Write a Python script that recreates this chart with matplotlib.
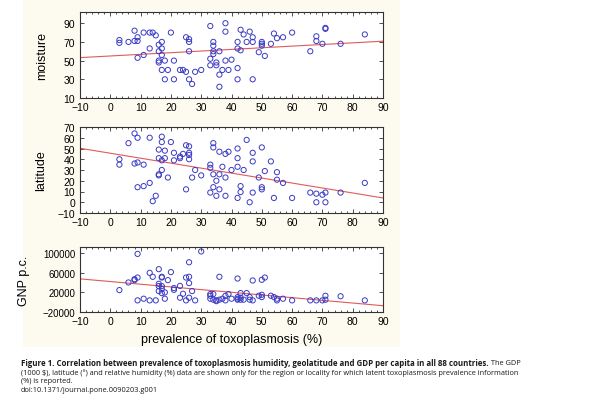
import numpy as np
import matplotlib
matplotlib.use("Agg")
import matplotlib.pyplot as plt
from matplotlib.patches import Rectangle
from matplotlib.ticker import MultipleLocator

# ---------------- data ----------------
moist_x = [3, 3, 6, 8, 8, 9, 9, 9, 11, 11, 13, 13, 14, 15, 16, 16, 16, 16, 17, 17,
           17, 17, 18, 18, 19, 20, 21, 21, 23, 24, 25, 25, 26, 26, 26, 26, 27, 28, 30, 33,
           33, 33, 34, 34, 34, 34, 35, 35, 36, 36, 36, 37, 38, 38, 38, 39, 40, 42, 42, 42,
           42, 43, 43, 44, 45, 46, 47, 47, 47, 49, 50, 50, 50, 51, 53, 54, 55, 57, 60, 66,
           68, 68, 70, 71, 71, 76, 84]
moist_y = [72, 69, 70, 82, 71, 75, 71, 53, 80, 56, 63, 80, 80, 77, 67, 60, 50, 48, 70, 63,
           56, 40, 50, 30, 40, 80, 50, 30, 40, 40, 75, 38, 73, 70, 60, 30, 25, 38, 40, 87,
           52, 45, 70, 66, 60, 57, 48, 45, 60, 35, 22, 40, 90, 81, 50, 40, 51, 70, 63, 42,
           30, 83, 61, 78, 70, 81, 75, 70, 30, 59, 70, 68, 66, 55, 68, 79, 74, 75, 80, 60,
           76, 71, 68, 85, 84, 68, 78]

lat_x = [3, 3, 6, 8, 8, 9, 9, 9, 11, 11, 13, 13, 14, 15, 16, 16, 16, 16, 17, 17,
         17, 17, 18, 18, 19, 20, 21, 21, 23, 23, 24, 25, 25, 26, 26, 26, 26, 27, 28, 30,
         33, 33, 33, 34, 34, 34, 34, 35, 35, 36, 36, 36, 37, 38, 38, 38, 39, 40, 42, 42,
         42, 42, 43, 43, 44, 45, 46, 47, 47, 47, 49, 50, 50, 50, 51, 53, 54, 55, 55, 57,
         60, 66, 68, 68, 70, 71, 71, 76, 84]
lat_y = [40, 35, 55, 64, 36, 60, 37, 14, 35, 15, 60, 18, 1, 6, 49, 41, 26, 25, 61, 56,
         39, 30, 48, 41, 23, 56, 46, 39, 41, 42.5, 45, 53, 12, 52, 46, 44, 40, 23, 30, 25,
         35, 32, 9, 55, 51, 26, 14, 20, 6, 47, 26, 12, 33, 45, 23, 6, 47, 30, 50, 41,
         33, 4, 15, 9.5, 30, 58, 0, 46, 38, 9, 23, 51, 14, 12, 29, 38, 4, 28, 21, 18,
         4, 9, 8, 0, 7, 9, 0, 9, 18]

gnp_x = [3, 6, 8, 8, 9, 9, 9, 11, 13, 13, 14, 15, 16, 16, 16, 16, 17, 17, 17, 17,
         17, 18, 18, 19, 20, 21, 21, 23, 23, 24, 25, 25, 26, 26, 26, 26, 27, 28, 30, 33,
         33, 33, 34, 34, 35, 35, 36, 36, 37, 38, 38, 39, 40, 42, 42, 42, 42, 43, 43, 43,
         44, 45, 46, 46, 47, 47, 49, 50, 50, 50, 51, 53, 54, 55, 55, 57, 60, 66, 68, 70,
         71, 71, 76, 84]
gnp_y = [24500, 40000, 46700, 44700, 98000, 50000, 3600, 7000, 59500, 3600, 51500, 3600,
         67000, 37300, 32600, 22500, 51500, 50000, 32600, 27000, 18400, 19800, 7000, 44700,
         61000, 28600, 25000, 33000, 9000, 17000, 50000, 3600, 81000, 51500, 38700, 9000,
         22500, 3600, 103000, 16400, 13000, 7000, 16400, 5000, 3600, 2000, 51500, 5000,
         7000, 13000, 3600, 16400, 7000, 48000, 10300, 7000, 5000, 18400, 9000, 5000,
         5000, 18400, 10300, 5000, 44000, 3600, 13000, 45400, 15000, 10300, 50000, 13000,
         10300, 7000, 3600, 7000, 3600, 3600, 3600, 3600, 13000, 5000, 12000, 3600]

x_ticks = [-10, 0, 10, 20, 30, 40, 50, 60, 70, 80, 90]
moist_ticks = [10, 30, 50, 70, 90]
lat_ticks = [-10, 0, 10, 20, 30, 40, 50, 60, 70]
gnp_ticks = [-20000, 20000, 60000, 100000]

x_label = "prevalence of toxoplasmosis (%)"
caption_bold = ("Figure 1. Correlation between prevalence of toxoplasmosis humidity, "
                "geolatitude and GDP per capita in all 88 countries.")
caption_rest1 = " The GDP"
caption_line2 = (r"(1000 \$), latitude (°) and relative humidity (%) data are shown only for the "
                 "region or locality for which latent toxoplasmosis prevalence information")
caption_line3 = "(%) is reported."
caption_line4 = "doi:10.1371/journal.pone.0090203.g001"

# ---------------- figure ----------------
W, H = 604, 406
plt.rcParams["font.family"] = ["Liberation Sans", "DejaVu Sans"]
fig = plt.figure(figsize=(W / 100, H / 100), dpi=100)
fig.patch.set_facecolor("white")
fig.patches.append(Rectangle((23 / W, 1 - 348 / H), (400 - 23) / W, 348 / H,
                             transform=fig.transFigure, facecolor="#fdfbf0",
                             edgecolor="none", zorder=-10))

MARK = "#3a3ac4"
LINE = "#e05a5a"


def px_axes(left, top, right, bottom):
    return fig.add_axes([left / W, 1 - bottom / H, (right - left) / W, (bottom - top) / H])


def style(ax, yt, ylim, ylabel, ylabel_x, ytick_size=7.5):
    ax.set_xlim(-10, 90)
    ax.set_ylim(*ylim)
    ax.set_xticks(x_ticks)
    ax.set_yticks(yt)
    ax.xaxis.set_minor_locator(MultipleLocator(2))
    ax.tick_params(axis="both", which="both", direction="in", top=True, right=True,
                   color="#333333", width=0.6)
    ax.tick_params(axis="both", which="major", length=3)
    ax.tick_params(axis="x", which="major", labelsize=7.5, pad=3)
    ax.tick_params(axis="y", which="major", labelsize=ytick_size, pad=3.5)
    ax.tick_params(axis="both", which="minor", length=1.5)
    for s in ax.spines.values():
        s.set_color("#333333")
        s.set_linewidth(0.8)
    ax.set_ylabel(ylabel, fontsize=9)
    pos = ax.get_position()
    ax.yaxis.set_label_coords(ylabel_x / W, 0.5 * (pos.y0 + pos.y1),
                              transform=fig.transFigure)


def panel(ax, xs, ys):
    xs = np.asarray(xs, float)
    ys = np.asarray(ys, float)
    ax.scatter(xs, ys, s=14, facecolors="none", edgecolors=MARK, linewidths=0.7, zorder=3)
    b, a = np.polyfit(xs, ys, 1)
    xl = np.array([-10, 90])
    ax.plot(xl, a + b * xl, color=LINE, lw=0.8, zorder=2)


ax1 = px_axes(80, 13, 383, 99)
panel(ax1, moist_x, moist_y)
style(ax1, moist_ticks, (10, 102), "moisture", 48)

ax2 = px_axes(80, 128, 383, 214)
panel(ax2, lat_x, lat_y)
style(ax2, lat_ticks, (-10, 70), "latitude", 47)

ax3 = px_axes(80, 248, 383, 313)
panel(ax3, gnp_x, gnp_y)
style(ax3, gnp_ticks, (-20000, 112000), "GNP p.c.", 30, ytick_size=7)
ax3.set_xlabel(x_label, fontsize=9, labelpad=5)

# ---------------- caption ----------------
cap_font = ["Open Sans", "DejaVu Sans"]
cb = 5.65
cr = 5.35
x0 = 21 / W
t1 = fig.text(x0, 1 - 364 / H, caption_bold, fontsize=cb, fontweight="bold",
              family=cap_font, va="center", ha="left", color="#1a1a1a")
fig.canvas.draw()
bb = t1.get_window_extent(fig.canvas.get_renderer())
fig.text(bb.x1 / fig.bbox.width, 1 - 364 / H, caption_rest1, fontsize=cr,
         family=cap_font, va="center", ha="left", color="#1a1a1a")
fig.text(x0, 1 - 373 / H, caption_line2, fontsize=cr, family=cap_font, va="center",
         ha="left", color="#1a1a1a")
fig.text(x0, 1 - 382 / H, caption_line3, fontsize=cr, family=cap_font, va="center",
         ha="left", color="#1a1a1a")
fig.text(x0, 1 - 391 / H, caption_line4, fontsize=cr, family=cap_font, va="center",
         ha="left", color="#1a1a1a")

fig.savefig("out.png", dpi=100)
